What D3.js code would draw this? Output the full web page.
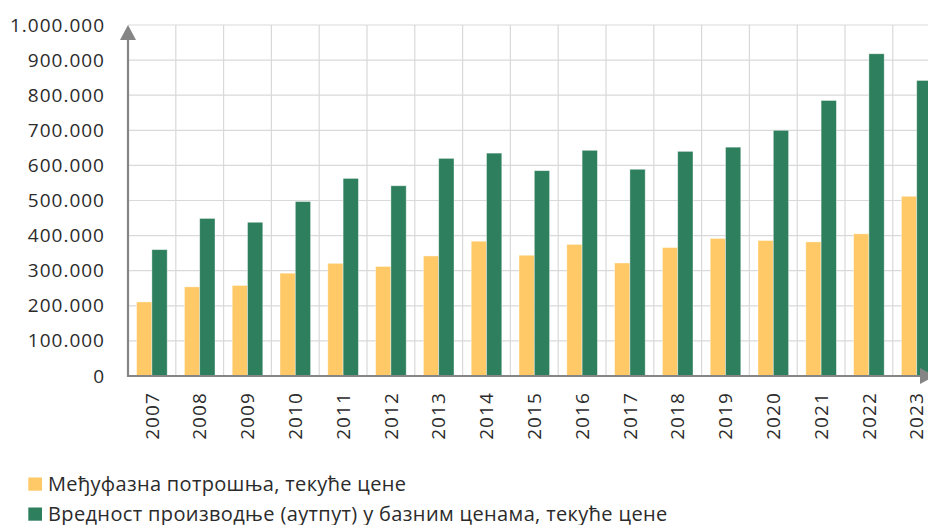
<!DOCTYPE html>
<html>
<head>
<meta charset="utf-8">
<script src="https://cdn.jsdelivr.net/npm/d3@7"></script>
<style>
  html, body { margin: 0; padding: 0; background: #fff; }
  svg { display: block; }
  text { font-family: "Open Sans", "Noto Sans", sans-serif; font-weight: 400; fill: #2b2b2b; }
</style>
</head>
<body>
<svg id="chart" width="928" height="525"></svg>
<script>
const years = ["2007","2008","2009","2010","2011","2012","2013","2014","2015","2016","2017","2018","2019","2020","2021","2022","2023"];
const intermediate = [211000, 254000, 258000, 293000, 321000, 312000, 342000, 384000, 344000, 375000, 322000, 366000, 392000, 386000, 382000, 405000, 512000];
const output = [360000, 449000, 438000, 497000, 563000, 542000, 620000, 635000, 585000, 643000, 589000, 640000, 652000, 700000, 785000, 918000, 842000];
const seriesNames = ["Међуфазна потрошња, текуће цене", "Вредност производње (аутпут) у базним ценама, текуће цене"];
const seriesColors = ["#fec966", "#2e7f5d"];
const yTicks = [0, 100000, 200000, 300000, 400000, 500000, 600000, 700000, 800000, 900000, 1000000];

const svg = d3.select("#chart");
const left = 128, bandW = 47.8, zeroY = 376, topY = 25;
const textColor = "#2b2b2b";

const x = d3.scaleBand().domain(years).range([left, left + bandW * years.length]).padding(0);
const x1 = d3.scaleBand().domain([0, 1]).range([8.6, bandW - 8.6]).padding(0);
const y = d3.scaleLinear().domain([0, 1000000]).range([zeroY, topY]);

const fmt = v => d3.format(",")(v).replace(/,/g, ".");

// grid
const grid = svg.append("g").attr("stroke", "#d9d9d9").attr("stroke-width", 1.2);
yTicks.filter(t => t > 0).forEach(t => {
  grid.append("line").attr("x1", left).attr("x2", x.range()[1]).attr("y1", y(t)).attr("y2", y(t));
});
years.forEach((yr, i) => {
  if (i > 0) grid.append("line").attr("x1", x(yr)).attr("x2", x(yr)).attr("y1", topY).attr("y2", zeroY);
});
grid.append("line").attr("x1", x.range()[1]).attr("x2", x.range()[1]).attr("y1", topY).attr("y2", zeroY);

// bars
const data = years.map((yr, i) => ({ yr, vals: [intermediate[i], output[i]] }));
const groups = svg.append("g").selectAll("g").data(data).join("g")
  .attr("transform", d => `translate(${x(d.yr)},0)`);
groups.selectAll("rect").data(d => d.vals.map((v, k) => ({ v, k }))).join("rect")
  .attr("x", d => x1(d.k))
  .attr("width", x1.bandwidth())
  .attr("y", d => y(d.v))
  .attr("height", d => zeroY - y(d.v))
  .attr("fill", d => seriesColors[d.k])
  .attr("stroke", "#ffffff")
  .attr("stroke-opacity", 0.5)
  .attr("stroke-width", 0.8);

// y axis
const yAxis = d3.axisLeft(y).tickValues(yTicks).tickFormat(fmt).tickSize(0).tickPadding(23);
const ya = svg.append("g").attr("transform", `translate(${left},0)`).call(yAxis);
ya.select(".domain").remove();
ya.selectAll("text")
  .style("font-size", "19px")
  .style("font-family", "'Open Sans', sans-serif")
  .style("font-weight", "400")
  .style("letter-spacing", "1px")
  .attr("fill", textColor);

// x axis
const xAxis = d3.axisBottom(x).tickSize(0);
const xa = svg.append("g").attr("transform", `translate(0,${zeroY})`).call(xAxis);
xa.select(".domain").remove();
xa.selectAll("text")
  .style("font-size", "19px")
  .style("font-family", "'Open Sans', sans-serif")
  .style("font-weight", "400")
  .style("letter-spacing", "1.1px")
  .attr("fill", textColor)
  .attr("text-anchor", "end")
  .attr("dy", "0.35em")
  .attr("y", 0)
  .attr("transform", "translate(0,16) rotate(-90)");

// axis lines with arrows
const axisColor = "#858585";
svg.append("line").attr("x1", left).attr("x2", left).attr("y1", zeroY + 1).attr("y2", topY + 10)
  .attr("stroke", axisColor).attr("stroke-width", 2.2);
svg.append("path").attr("d", `M${left},${topY} L${left - 8},${topY + 15} L${left + 8},${topY + 15} Z`).attr("fill", axisColor);
svg.append("line").attr("x1", left - 1).attr("x2", 928).attr("y1", zeroY).attr("y2", zeroY)
  .attr("stroke", axisColor).attr("stroke-width", 2.2);
svg.append("path").attr("d", `M${935},${zeroY} L${920},${zeroY - 8} L${920},${zeroY + 8} Z`).attr("fill", axisColor);

// legend
const legend = svg.append("g");
const legendSpacing = ["0.33px", "0.37px"];
seriesNames.forEach((name, i) => {
  const ly = 477.5 + i * 30;
  legend.append("rect").attr("x", 28.3).attr("y", ly).attr("width", 13.7).attr("height", 13.2).attr("fill", seriesColors[i]);
  legend.append("text").attr("x", 48).attr("y", ly + 13.5)
    .style("font-size", "20px")
    .style("font-weight", "400")
    .style("letter-spacing", legendSpacing[i])
    .attr("fill", textColor).text(name);
});
</script>
</body>
</html>
